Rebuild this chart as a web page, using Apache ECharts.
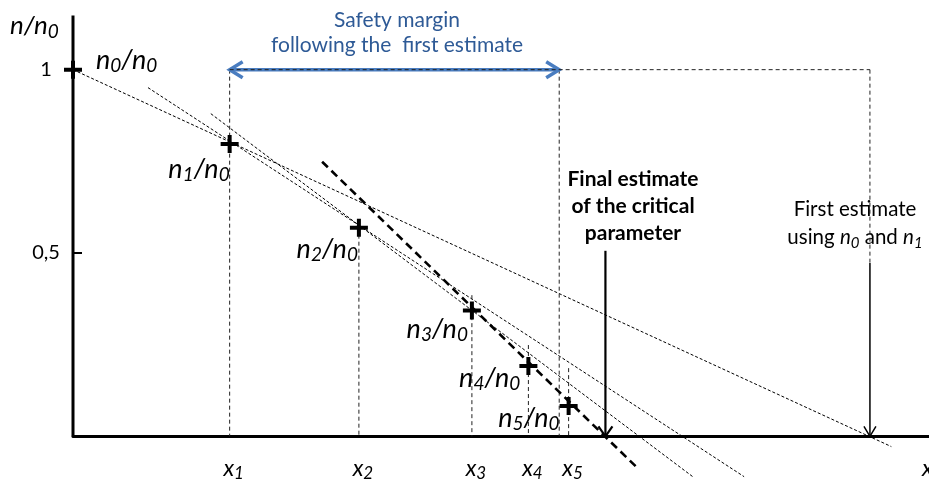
<!DOCTYPE html>
<html><head><meta charset="utf-8">
<script src="https://cdn.jsdelivr.net/npm/echarts@6/dist/echarts.min.js"></script>
<style>html,body{margin:0;padding:0;background:#fff}#c{width:929px;height:484px}</style>
</head><body><div id="c"></div>
<script>
// ---------------- data ----------------
const pointSubs = ['0', '1', '2', '3', '4', '5'];            // n_i / n_0
const pointX = [0, 18.3, 33.4, 46.6, 53.2, 57.9];
const pointY = [1, 0.797, 0.569, 0.343, 0.192, 0.083];
const xTickValues = [18.3, 33.4, 46.6, 53.2, 57.9];
const xTickSubs = ['1', '2', '3', '4', '5'];
const yTickValues = [0.5, 1];
const yTickLabels = ['0,5', '1'];
const safetyMarginX = [18.3, 56.8];
const firstEstimateX = 93.1;
const finalEstimateX = 62.2;
const yAxisTop = 1.148;
// estimate lines: [start, end]
const lineFirst  = [[0, 1], [95.6, -0.028]];        // through n0 and n1
const lineSecond = [[8.76, 0.951], [78.4, -0.11]];  // through n1 and n2
const lineThird  = [[16.1, 0.88], [72.4, -0.11]];   // through n2 and n3
const lineFinal  = [[29.1, 0.749], [65.8, -0.083]]; // through n3, n4, n5
// vertical guides: x, top value, bottom value
const guideX      = [18.3, 33.4, 46.6, 53.2, 57.9, 56.8, 93.1];
const guideTop    = [1, 0.569, 0.385, 0.249, 0.186, 1, 1];
const guideBottom = [0, 0, 0, 0, 0, 0, 0.473];
const topGuide = [[18.3, 1], [93.1, 1]];
// arrows: start and end
const arrowStarts = [[18.3, 1], [62.2, 0.506], [93.1, 0.473]];
const arrowEnds   = [[56.8, 1], [62.2, 0], [93.1, 0]];

// ---------------- styles / layout ----------------
const F = 'Lato';
const BLUE = '#4a7dc0';
const BLUE_TEXT = '#2e5a96';
const arrowStyles = [
  { color: BLUE, width: 3.5, armL: 13, armW: 8, both: true },
  { color: '#000', width: 2.2, armL: 10, armW: 7, both: false },
  { color: '#000', width: 1.5, armL: 10, armW: 6, both: false }
];
const labelLayout = [
  { position: 'right', offset: [14, -9] },
  { position: 'left', offset: [9, 25] },
  { position: 'left', offset: [8, 22] },
  { position: 'left', offset: [5, 19] },
  { position: 'left', offset: [1, 12] },
  { position: 'left', offset: [0, 12] }
];
const richN = {
  m: { fontFamily: F, fontStyle: 'italic', fontSize: 27, lineHeight: 30, color: '#000' },
  s: { fontFamily: F, fontStyle: 'italic', fontSize: 19, lineHeight: 16, verticalAlign: 'bottom', color: '#000' },
  r: { fontFamily: F, fontSize: 20.5, lineHeight: 28, color: '#000' },
  ri: { fontFamily: F, fontStyle: 'italic', fontSize: 20.5, lineHeight: 28, color: '#000' },
  rs: { fontFamily: F, fontStyle: 'italic', fontSize: 15, lineHeight: 13, verticalAlign: 'bottom', color: '#000' }
};
const nText = k => `{m|n}{s|${k}}{m|/n}{s|0}`;

function seg(data, style, z) {
  return { type: 'line', data: data, symbol: 'none', showSymbol: false, silent: true,
    clip: false, animation: false, lineStyle: style, z: z || 2 };
}
const thin = { color: '#000', width: 1, type: [3, 2] };
const guide = { color: '#222', width: 1, type: [4, 3] };

const series = [];
series.push(seg(lineFirst, thin));
series.push(seg(lineSecond, thin));
series.push(seg(lineThird, thin));
series.push(seg(lineFinal, { color: '#000', width: 2.6, type: [8, 5] }, 3));
guideX.forEach((gx, i) => series.push(seg([[gx, guideTop[i]], [gx, guideBottom[i]]], guide)));
// y axis line
series.push(seg([[0, 0], [0, yAxisTop]], { color: '#000', width: 3, type: 'solid' }, 5));
// arrows
series.push({
  type: 'custom', clip: false, silent: true, animation: false, z: 4,
  data: arrowStarts.map((s, i) => [s[0], s[1], arrowEnds[i][0], arrowEnds[i][1]]),
  encode: { x: [0, 2], y: [1, 3] },
  renderItem: (params, api) => {
    const st = arrowStyles[params.dataIndex];
    const a = api.coord([api.value(0), api.value(1)]);
    const b = api.coord([api.value(2), api.value(3)]);
    const dx = b[0] - a[0], dy = b[1] - a[1];
    const L = Math.hypot(dx, dy), ux = dx / L, uy = dy / L, nx = -uy, ny = ux;
    const head = (t, ex, ey) => ({
      type: 'polyline',
      shape: { points: [[t[0] - ex * st.armL + nx * st.armW, t[1] - ey * st.armL + ny * st.armW], t,
                        [t[0] - ex * st.armL - nx * st.armW, t[1] - ey * st.armL - ny * st.armW]] },
      style: { stroke: st.color, lineWidth: st.width, fill: 'none', lineJoin: 'miter' }
    });
    const children = [{ type: 'line', shape: { x1: a[0], y1: a[1], x2: b[0], y2: b[1] },
      style: { stroke: st.color, lineWidth: st.width } }, head(b, ux, uy)];
    if (st.both) children.push(head(a, -ux, -uy));
    return { type: 'group', children: children };
  }
});
// top horizontal dashed guide (over the blue arrow)
series.push(seg(topGuide, { color: '#222', width: 1, type: [4, 3] }, 6));
// points
series.push({
  type: 'scatter', clip: false, silent: true, animation: false, z: 7,
  symbol: 'path://M-9,-2H9V2H-9Z M-2,-9H2V9H-2Z', symbolSize: 18,
  itemStyle: { color: '#000', opacity: 1 },
  data: pointX.map((x, i) => ({
    value: [x, pointY[i]],
    label: { show: true, position: labelLayout[i].position, distance: 0, offset: labelLayout[i].offset,
      formatter: nText(pointSubs[i]), rich: richN }
  }))
});

const chart = echarts.init(document.getElementById('c'), null, { renderer: 'canvas' });
chart.setOption({
  animation: false,
  backgroundColor: '#fff',
  grid: { left: 73, right: 0, top: 0, bottom: 0, containLabel: false, outerBoundsMode: 'none' },
  xAxis: {
    type: 'value', min: 0, max: 100,
    axisLine: { show: true, onZero: true, lineStyle: { color: '#000', width: 3 } },
    axisTick: { show: false },
    splitLine: { show: false },
    axisLabel: {
      customValues: xTickValues, margin: -28, interval: 0, padding: [0, 0, 0, 8],
      formatter: v => `{m|x}{s|${xTickSubs[xTickValues.indexOf(v)]}}`,
      rich: {
        m: { fontFamily: F, fontStyle: 'italic', fontSize: 23, lineHeight: 26, color: '#000' },
        s: { fontFamily: F, fontStyle: 'italic', fontSize: 17, lineHeight: 12, verticalAlign: 'bottom', color: '#000' }
      }
    }
  },
  yAxis: {
    type: 'value', min: -0.13, max: 1.19,
    axisLine: { show: false },
    splitLine: { show: false },
    axisTick: { show: true, inside: true, length: 9, customValues: [0.5], lineStyle: { color: '#000', width: 2 } },
    axisLabel: {
      customValues: yTickValues, margin: 27, align: 'center',
      formatter: v => yTickLabels[yTickValues.indexOf(v)],
      fontFamily: F, fontSize: 20, color: '#000'
    }
  },
  graphic: [
    { type: 'text', x: 10, y: 26, silent: true,
      style: { text: '{m|n/n}{s|0}', rich: {
        m: { fontFamily: F, fontStyle: 'italic', fontSize: 26, lineHeight: 30, color: '#000' },
        s: { fontFamily: F, fontStyle: 'italic', fontSize: 19, lineHeight: 15, verticalAlign: 'bottom', color: '#000' } },
        verticalAlign: 'middle', textVerticalAlign: 'middle' } },
    { type: 'text', x: 397, y: 33, silent: true,
      style: { text: 'Safety margin\nfollowing the  first estimate', fill: BLUE_TEXT,
        font: `21px ${F}`, lineHeight: 25, align: 'center', textAlign: 'center',
        verticalAlign: 'middle', textVerticalAlign: 'middle' } },
    { type: 'text', x: 633, y: 206, silent: true,
      style: { text: 'Final estimate\nof the critical\nparameter', fill: '#000',
        font: `bold 21px ${F}`, lineHeight: 27, align: 'center', textAlign: 'center',
        verticalAlign: 'middle', textVerticalAlign: 'middle' } },
    { type: 'text', x: 855, y: 223, silent: true,
      style: { text: '{r|First estimate}\n{r|using }{ri|n}{rs|0}{r| and }{ri|n}{rs|1}', rich: richN,
        align: 'center', textAlign: 'center', verticalAlign: 'middle', textVerticalAlign: 'middle' } },
    { type: 'text', x: 922, y: 468, silent: true,
      style: { text: 'x', fill: '#000', font: `italic 24px ${F}`,
        verticalAlign: 'middle', textVerticalAlign: 'middle' } }
  ],
  series: series
});
</script>
</body></html>
